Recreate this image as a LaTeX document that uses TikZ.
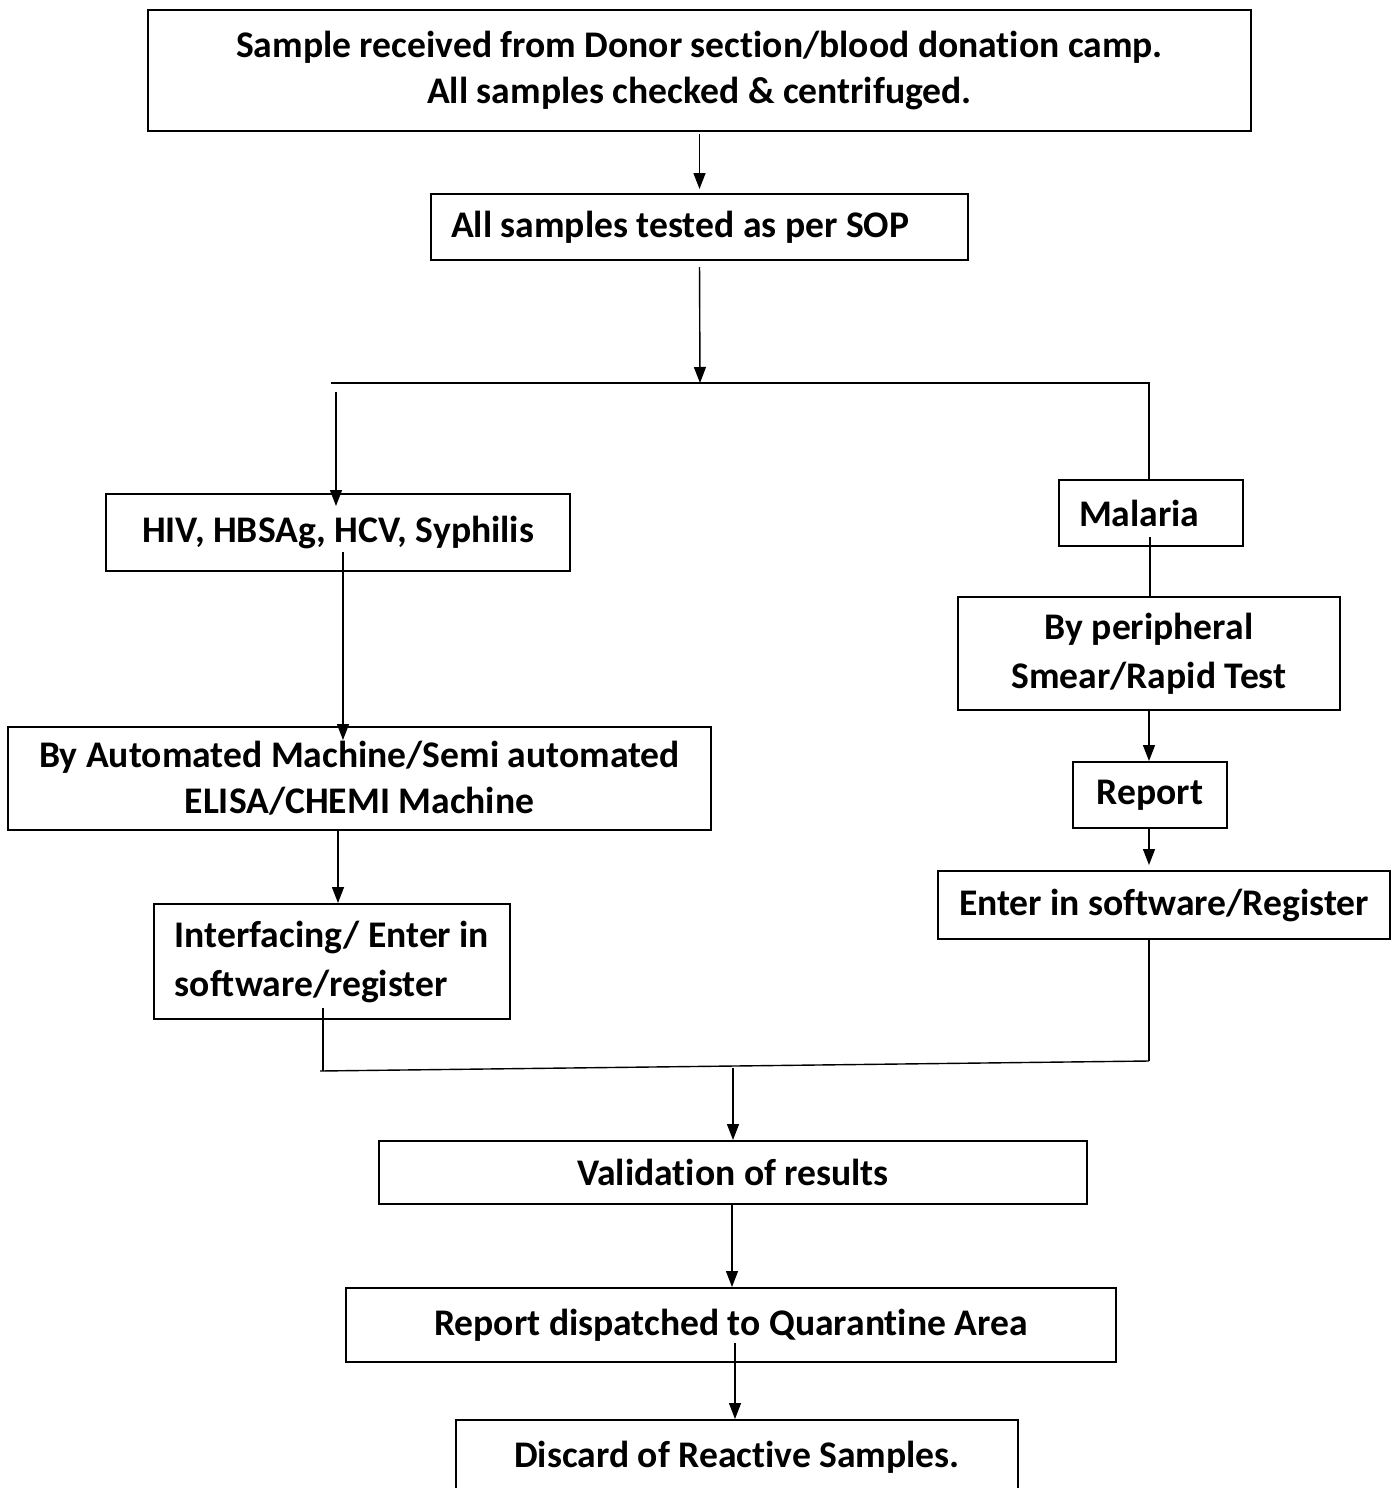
\documentclass[tikz,border=0pt]{standalone}
\usepackage{fontspec}
\setmainfont{Carlito}[Ligatures=NoCommon]
\usetikzlibrary{arrows.meta}

\begin{document}
\begin{tikzpicture}[x=0.5pt,y=-0.5pt,
  box/.style={draw=black,line width=1pt,rectangle,inner xsep=10pt,inner ysep=0pt,
    font=\bfseries\fontsize{18.8}{23}\selectfont},
  wide/.style={font=\bfseries\fontsize{18.8}{24.5}\selectfont},
  ctext/.style={align=center},
  ltext/.style={align=left},
  link/.style={draw=black,line width=0.7pt},
  arr/.style={link,-{Triangle[length=8pt,width=6pt]}}]
\useasboundingbox (0,0) rectangle (1397,1488);

% ---- boxes ----
\node[box,ctext,minimum width=551.5pt,minimum height=60.5pt] (recv) at (699.5,70.5)
  {Sample received from Donor section/blood donation camp.\\All samples checked \& centrifuged.};
\node[box,minimum height=33pt] (sop) at (699.5,227)
  {\makebox[248.5pt][l]{All samples tested as per SOP}};
\node[box,ctext,minimum width=232pt,minimum height=38.5pt] (hiv) at (338,532.5)
  {HIV, HBSAg, HCV, Syphilis};
\node[box,ctext,minimum width=351.5pt,minimum height=51.5pt] (auto) at (359.5,778.5)
  {By Automated Machine/Semi automated\\ELISA/CHEMI Machine};
\node[box,wide,ltext,minimum width=178pt,minimum height=57.5pt] (iface) at (332,961.5)
  {Interfacing/ Enter in\\software/register};
\node[box,minimum height=33pt] (mal) at (1151,513)
  {\makebox[72pt][l]{Malaria}};
\node[box,wide,ctext,minimum width=191pt,minimum height=56.5pt] (smear) at (1149,653.5)
  {By peripheral\\Smear/Rapid Test};
\node[box,ctext,minimum width=77pt,minimum height=33pt] (rep) at (1150,795)
  {Report};
\node[box,ctext,minimum width=226pt,minimum height=34pt] (enter) at (1164,905)
  {Enter in software/Register};
\node[box,ctext,minimum width=354pt,minimum height=31.5pt] (valid) at (733,1172.5)
  {Validation of results};
\node[box,ctext,minimum width=385pt,minimum height=37pt] (disp) at (731,1325)
  {Report dispatched to Quarantine Area};
\node[box,ctext,minimum width=281pt,minimum height=37.5pt] (disc) at (737,1457.5)
  {Discard of Reactive Samples.};

% ---- junction points ----
\coordinate (split) at (700,383);
\coordinate (hl) at (331,383);
\coordinate (hr) at (1149,383);
\coordinate (ltop) at (336,392);
\coordinate (hivin) at (336,506);
\coordinate (hivout) at (343,552);
\coordinate (autoin) at (343,740);
\coordinate (ifout) at (323,1008);
\coordinate (mL) at (320,1071);
\coordinate (mR) at (1149,1061);
\coordinate (mC) at (733,1068);
\coordinate (malout) at (1150,537);
\coordinate (dispout) at (735,1343);

% ---- connectors ----
\draw[arr,shorten <=1pt,shorten >=2pt] (recv.south) -- (sop.north);
\draw[arr,shorten <=3pt] (sop.south) -- (split);
\draw[link] (hl) -- (hr) -- (hr |- mal.north);
\draw[arr] (ltop) -- (hivin);
\draw[arr] (hivout) -- (autoin);
\draw[arr] (auto.south -| 338,0) -- (iface.north -| 338,0);
\draw[link] (ifout) -- (ifout |- mL);
\draw[link] (mL) -- (mR);
\draw[link] (enter.south -| mR) -- (mR);
\draw[arr] (mC) -- (valid.north -| mC);
\draw[arr] (valid.south -| 732,0) -- (disp.north -| 732,0);
\draw[arr] (dispout) -- (disc.north -| dispout);
\draw[link] (malout) -- (smear.north -| malout);
\draw[arr] (smear.south -| 1149,0) -- (rep.north -| 1149,0);
\draw[arr,shorten >=2.5pt] (rep.south -| 1149,0) -- (enter.north -| 1149,0);
\end{tikzpicture}
\end{document}
